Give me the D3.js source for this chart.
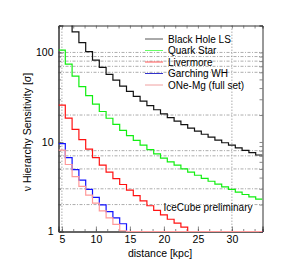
<!DOCTYPE html>
<html>
<head>
<meta charset="utf-8">
<script src="https://cdn.jsdelivr.net/npm/d3@7"></script>
<style>
  body { margin: 0; background: #fff; }
  svg { display: block; font-family: "Liberation Sans", Arial, sans-serif; }
</style>
</head>
<body>
<div id="chart"></div>
<script>
// distance bins [kpc], each step is centred on the integer distance
const distances = [5, 6, 7, 8, 9, 10, 11, 12, 13, 14, 15, 16, 17, 18, 19,
                   20, 21, 22, 23, 24, 25, 26, 27, 28, 29, 30, 31, 32, 33, 34];

// sensitivity [sigma] (values below 1 sit on the bottom axis)
const blackHoleLS = [330, 230, 170, 129, 102, 82, 68, 57, 49, 42, 36.7, 32.3, 28.6, 25.5, 22.9,
                     20.6, 18.7, 17.1, 15.6, 14.3, 13.2, 12.2, 11.3, 10.5, 9.8, 9.2, 8.6, 8.05, 7.6, 7.15];
const quarkStar = [106, 74, 54.5, 41.5, 33, 26.5, 21.9, 18.4, 15.7, 13.5, 11.8, 10.4, 9.2, 8.2, 7.35,
                   6.6, 6.0, 5.5, 5.0, 4.6, 4.25, 3.92, 3.64, 3.38, 3.15, 2.95, 2.76, 2.59, 2.44, 2.3];
const livermore = [25.8, 18.5, 13.8, 10.6, 8.3, 6.7, 5.5, 4.6, 3.9, 3.35, 2.9, 2.52, 2.2, 1.94, 1.72,
                   1.53, 1.37, 1.24, 1.12, 1, 1, 1, 1, 1, 1, 1, 1, 1, 1, 1];
const garchingWH = [9.6, 6.7, 4.9, 3.75, 2.95, 2.4, 1.98, 1.67, 1.42, 1.22, 1, 1, 1, 1, 1,
                    1, 1, 1, 1, 1, 1, 1, 1, 1, 1, 1, 1, 1, 1, 1];
const oneMg = [8.1, 5.6, 4.1, 3.2, 2.55, 2.07, 1.7, 1.42, 1.2, 1.02, 1, 1, 1, 1, 1,
               1, 1, 1, 1, 1, 1, 1, 1, 1, 1, 1, 1, 1, 1, 1];

const seriesNames = ['Black Hole LS', 'Quark Star', 'Livermore', 'Garching WH', 'ONe-Mg (full set)'];
const seriesValues = [blackHoleLS, quarkStar, livermore, garchingWH, oneMg];
const seriesColors = ['#111111', '#11ee11', '#ff1111', '#1111ff', '#ff9999'];
const legendColors = ['#555555', '#66ff66', '#ff5555', '#3333cc', '#f0a0a0'];

// reference lines
const hGrid = [2, 3, 5, 7, 8, 20, 60, 70, 80, 90, 100];
const vGrid = [5, 30];
const xTickLabels = [5, 10, 15, 20, 25, 30];
const yTickLabels = [1, 10, 100];

const width = 291, height = 273;
const margin = { top: 25.5, right: 28.5, bottom: 41.5, left: 58.5 };
const innerW = width - margin.left - margin.right;
const innerH = height - margin.top - margin.bottom;

const svg = d3.select('#chart').append('svg')
    .attr('width', width)
    .attr('height', height);

const g = svg.append('g')
    .attr('transform', `translate(${margin.left},${margin.top})`);

const x = d3.scaleLinear().domain([4.5, 34.5]).range([0, innerW]);
const y = d3.scaleLog().domain([1, 200]).range([innerH, 0]);

svg.append('defs').append('clipPath').attr('id', 'clip')
  .append('rect')
    .attr('x', 0).attr('y', 0)
    .attr('width', innerW).attr('height', innerH + 1);

// grid lines
g.selectAll('.hgrid').data(hGrid).join('line')
    .attr('class', 'hgrid')
    .attr('x1', 0).attr('x2', innerW)
    .attr('y1', d => y(d)).attr('y2', d => y(d))
    .attr('stroke', '#8a8a8a')
    .attr('stroke-width', 0.7)
    .attr('stroke-dasharray', '3,1.5,1,1.5');

g.selectAll('.vgrid').data(vGrid).join('line')
    .attr('class', 'vgrid')
    .attr('x1', d => x(d)).attr('x2', d => x(d))
    .attr('y1', 0).attr('y2', innerH)
    .attr('stroke', '#8a8a8a')
    .attr('stroke-width', 0.7)
    .attr('stroke-dasharray', '1.5,1.5');

// axes (ticks point inwards, box on all four sides)
const minorX = d3.range(5, 34.5, 5 / 3);
const yMinor = y.ticks(30);

g.append('g')
    .attr('transform', `translate(0,${innerH})`)
    .call(d3.axisBottom(x).tickValues(xTickLabels).tickSize(-5).tickPadding(4).tickFormat(d3.format('d')));
g.append('g')
    .attr('transform', `translate(0,${innerH})`)
    .call(d3.axisBottom(x).tickValues(minorX).tickSize(-2.5).tickFormat(''));
g.append('g')
    .call(d3.axisTop(x).tickValues(minorX).tickSize(-3).tickFormat(''));
g.append('g')
    .call(d3.axisLeft(y).tickValues(yTickLabels).tickSize(-5).tickPadding(5).tickFormat(d3.format('d')));
g.append('g')
    .call(d3.axisLeft(y).tickValues(yMinor).tickSize(-2.5).tickFormat(''));
g.append('g')
    .attr('transform', `translate(${innerW},0)`)
    .call(d3.axisRight(y).tickValues(yMinor).tickSize(-3).tickFormat(''));

g.selectAll('.domain').attr('stroke', '#333').attr('stroke-width', 1);
g.selectAll('.tick line').attr('stroke', '#555').attr('stroke-width', 0.7);
g.selectAll('.tick text').attr('font-size', 10.5).attr('fill', '#000')
    .attr('font-family', '"Liberation Sans", Arial, sans-serif');

// step curves, one flat step per distance bin
const stepLine = d3.line()
    .x(d => x(d[0]))
    .y(d => y(d[1]))
    .curve(d3.curveStepAfter);

const curves = g.append('g').attr('clip-path', 'url(#clip)');
seriesValues.forEach((vals, i) => {
    const pts = distances.map((d, j) => [d - 0.5, vals[j]]);
    pts.push([distances[distances.length - 1] + 0.5, vals[vals.length - 1]]);
    curves.append('path')
        .datum(pts)
        .attr('fill', 'none')
        .attr('stroke', seriesColors[i])
        .attr('stroke-width', 1.2)
        .attr('d', stepLine);
});

// legend
const legend = g.append('g').attr('transform', `translate(${145 - margin.left},${39 - margin.top})`);
seriesNames.forEach((name, i) => {
    const row = legend.append('g').attr('transform', `translate(0,${i * 11.5})`);
    row.append('line')
        .attr('x1', 0).attr('x2', 18)
        .attr('stroke', legendColors[i])
        .attr('stroke-width', 1);
    row.append('text')
        .attr('x', 23).attr('y', 3.5)
        .attr('font-size', 10)
        .text(name);
});

// labels
svg.append('text')
    .attr('x', 208).attr('y', 211)
    .attr('text-anchor', 'middle')
    .attr('font-size', 10)
    .text('IceCube preliminary');

svg.append('text')
    .attr('x', 160).attr('y', 257)
    .attr('text-anchor', 'middle')
    .attr('font-size', 10.5)
    .text('distance [kpc]');

svg.append('text')
    .attr('transform', 'translate(31,132) rotate(-90)')
    .attr('text-anchor', 'middle')
    .attr('font-size', 10.5)
    .text('ν Hierarchy Sensitivity [σ]');
</script>
</body>
</html>
